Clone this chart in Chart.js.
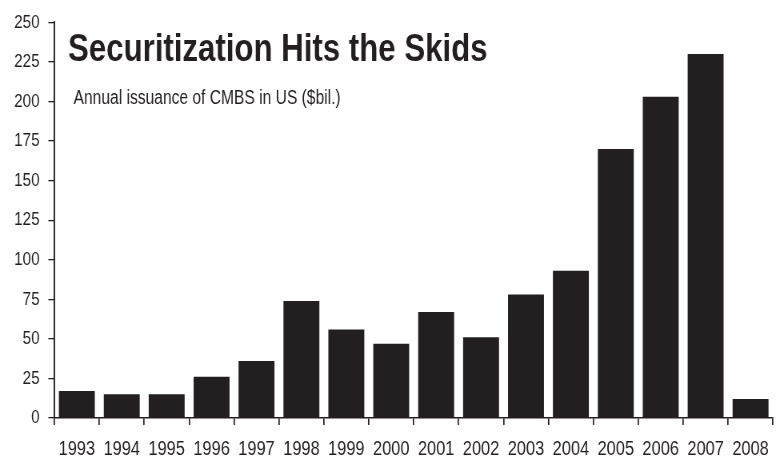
<!DOCTYPE html>
<html>
<head>
<meta charset="utf-8">
<script src="https://cdn.jsdelivr.net/npm/chart.js@4/dist/chart.umd.min.js"></script>
<style>
  html, body { margin: 0; padding: 0; background: #fff; overflow: hidden; }
  /* el llenç es dibuixa 1.25x mes ample i es comprimeix: lletra estreta */
  #wrap { width: 973px; height: 460px; position: relative; transform: scaleX(0.8); transform-origin: 0 0; }
</style>
</head>
<body>
<div id="wrap"><canvas id="grafic"></canvas></div>
<script>
// dades llegides del grafic original
const anys = ['1993', '1994', '1995', '1996', '1997', '1998', '1999', '2000',
              '2001', '2002', '2003', '2004', '2005', '2006', '2007', '2008'];
const emissions = [17, 15, 15, 26, 36, 74, 56, 47, 67, 51, 78, 93, 170, 203, 230, 12];
const titol = 'Securitization Hits the Skids';
const subtitol = 'Annual issuance of CMBS in US ($bil.)';

const negre = '#231f20';
const lletra = '"Liberation Sans", Arial, sans-serif';

// titol i subtitol dins l'area del grafic
const textos = {
  id: 'textos',
  afterDraw(chart) {
    const c = chart.ctx;
    c.save();
    c.fillStyle = negre;
    c.textBaseline = 'alphabetic';
    c.font = 'bold 39px ' + lletra;
    c.fillText(titol, 85, 61);
    c.font = '19.5px ' + lletra;
    c.fillText(subtitol, 92, 104);
    c.restore();
  }
};

const ctx = document.getElementById('grafic').getContext('2d');

new Chart(ctx, {
  type: 'bar',
  data: {
    labels: anys,
    datasets: [{
      data: emissions,
      backgroundColor: negre,
      borderWidth: 0,
      barPercentage: 0.8,
      categoryPercentage: 1
    }]
  },
  options: {
    responsive: true,
    maintainAspectRatio: false,
    animation: false,
    layout: { padding: { top: 12, right: 0, left: 0, bottom: 0 } },
    plugins: {
      legend: { display: false },
      tooltip: { enabled: false }
    },
    scales: {
      x: {
        offset: true,
        grid: { offset: true, drawOnChartArea: false, drawTicks: true, tickLength: 7, color: negre, lineWidth: 1.7 },
        border: { display: true, color: negre, width: 1.5 },
        ticks: { color: negre, font: { family: lletra, size: 20.5 }, padding: 12, maxRotation: 0, autoSkip: false },
        afterFit(s) { s.height = 42; }
      },
      y: {
        min: 0,
        max: 250,
        grid: { drawOnChartArea: false, drawTicks: true, tickLength: 7.5, color: negre, lineWidth: 1.3 },
        border: { display: true, color: negre, width: 1.9 },
        ticks: { stepSize: 25, color: negre, font: { family: lletra, size: 19 }, padding: 11 },
        afterFit(s) { s.width = 68; }
      }
    }
  },
  plugins: [textos]
});
</script>
</body>
</html>
